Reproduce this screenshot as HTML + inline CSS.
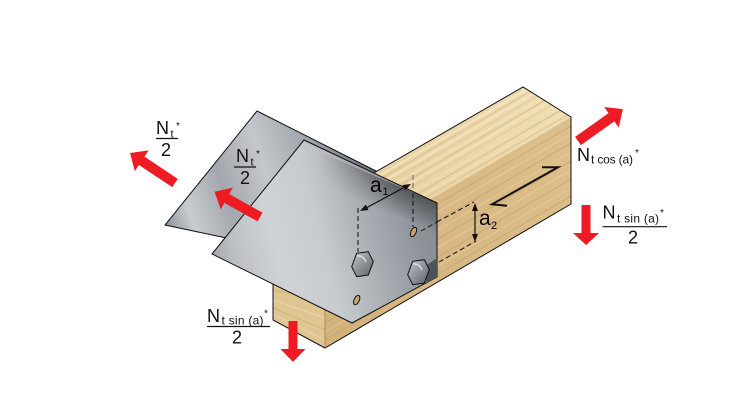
<!DOCTYPE html>
<html><head><meta charset="utf-8"><style>html,body{margin:0;padding:0;background:#fff}svg{display:block}</style></head>
<body>
<svg width="733" height="416" viewBox="0 0 733 416" xmlns="http://www.w3.org/2000/svg" font-family="'Liberation Sans', Arial, sans-serif">
<defs>
  <linearGradient id="gBack" gradientUnits="userSpaceOnUse" x1="165" y1="225" x2="378" y2="150">
    <stop offset="0" stop-color="#8e949a"/>
    <stop offset="0.12" stop-color="#c9ccd0"/>
    <stop offset="0.3" stop-color="#a3a8ae"/>
    <stop offset="0.5" stop-color="#c4c7cb"/>
    <stop offset="0.75" stop-color="#9aa0a6"/>
    <stop offset="1" stop-color="#62686f"/>
  </linearGradient>
  <linearGradient id="gFront" gradientUnits="userSpaceOnUse" x1="212" y1="280" x2="437" y2="220">
    <stop offset="0" stop-color="#9ca1a7"/>
    <stop offset="0.12" stop-color="#bcc0c4"/>
    <stop offset="0.3" stop-color="#d0d3d6"/>
    <stop offset="0.5" stop-color="#c8cbce"/>
    <stop offset="0.7" stop-color="#a9aeb3"/>
    <stop offset="0.9" stop-color="#8e949a"/>
    <stop offset="1" stop-color="#858b91"/>
  </linearGradient>
  <linearGradient id="gShade" gradientUnits="userSpaceOnUse" x1="392" y1="180" x2="380" y2="210">
    <stop offset="0" stop-color="#000" stop-opacity="0.45"/>
    <stop offset="1" stop-color="#000" stop-opacity="0"/>
  </linearGradient>
  <linearGradient id="gFadeX" gradientUnits="userSpaceOnUse" x1="320" y1="0" x2="395" y2="0">
    <stop offset="0" stop-color="#000"/>
    <stop offset="1" stop-color="#fff"/>
  </linearGradient>
  <mask id="mFade" maskUnits="userSpaceOnUse" x="0" y="0" width="733" height="416">
    <rect x="0" y="0" width="733" height="416" fill="url(#gFadeX)"/>
  </mask>
  <linearGradient id="gTop" gradientUnits="userSpaceOnUse" x1="540" y1="95" x2="300" y2="250">
    <stop offset="0" stop-color="#eedcb2"/>
    <stop offset="1" stop-color="#e4cc98"/>
  </linearGradient>
  <linearGradient id="gSide" gradientUnits="userSpaceOnUse" x1="571" y1="150" x2="330" y2="320">
    <stop offset="0" stop-color="#dcbf8c"/>
    <stop offset="1" stop-color="#d3b27c"/>
  </linearGradient>
  <linearGradient id="gBolt" x1="0" y1="0" x2="1" y2="1">
    <stop offset="0" stop-color="#c9ccd0"/>
    <stop offset="0.5" stop-color="#8d9399"/>
    <stop offset="1" stop-color="#5d636a"/>
  </linearGradient>
  <clipPath id="cTop"><polygon points="523,87 571,117 325,261 273,231"/></clipPath>
  <clipPath id="cSide"><polygon points="571,117 571,204 325,348 325,261"/></clipPath>
  <clipPath id="cEnd"><polygon points="273,231 325,261 325,348 273,320"/></clipPath>
</defs>

<!-- back plate -->
<polygon points="257,111 378,172 340,262 165,225" fill="url(#gBack)" stroke="#111" stroke-width="1"/>

<!-- timber -->
<polygon points="523,87 571,117 325,261 273,231" fill="url(#gTop)"/>
<g clip-path="url(#cTop)" fill="none" stroke-width="1">
  <line x1="526.8" y1="89.4" x2="266.8" y2="241.4" stroke="#f7ecd2"/>
  <line x1="530.2" y1="91.5" x2="270.2" y2="243.5" stroke="#d8bb86" stroke-width="0.8"/>
  <line x1="533.6" y1="93.6" x2="273.6" y2="245.6" stroke="#f5e8c8" stroke-width="1.3"/>
  <line x1="537.4" y1="96" x2="277.4" y2="248" stroke="#dcc08e" stroke-width="0.7"/>
  <line x1="541.2" y1="98.4" x2="281.2" y2="250.4" stroke="#f3e4c0"/>
  <line x1="544.6" y1="100.5" x2="284.6" y2="252.5" stroke="#d6b880" stroke-width="0.8"/>
  <line x1="548" y1="102.6" x2="288" y2="254.6" stroke="#f4e6c4" stroke-width="1.2"/>
  <line x1="551.8" y1="105" x2="291.8" y2="257" stroke="#dbbe8a" stroke-width="0.7"/>
  <line x1="556.6" y1="108" x2="296.6" y2="260" stroke="#efdfb8"/>
  <line x1="560.4" y1="110.4" x2="300.4" y2="262.4" stroke="#d5b67e" stroke-width="0.8"/>
  <line x1="564.3" y1="112.8" x2="304.3" y2="264.8" stroke="#f1e2bd"/>
  <line x1="567.6" y1="114.9" x2="307.6" y2="266.9" stroke="#d8ba84" stroke-width="0.7"/>
</g>
<polygon points="571,117 571,204 325,348 325,261" fill="url(#gSide)"/>
<g clip-path="url(#cSide)" fill="none" stroke-width="0.8">
  <line x1="571" y1="126" x2="311" y2="278" stroke="#c9a56e"/>
  <line x1="571" y1="134" x2="311" y2="286" stroke="#e6cfa0"/>
  <line x1="571" y1="143" x2="311" y2="295" stroke="#c8a36b"/>
  <line x1="571" y1="152" x2="311" y2="304" stroke="#e4cb9a"/>
  <line x1="571" y1="161" x2="311" y2="313" stroke="#c9a56e"/>
  <line x1="571" y1="170" x2="311" y2="322" stroke="#e6cfa0"/>
  <line x1="571" y1="179" x2="311" y2="331" stroke="#c8a36b"/>
  <line x1="571" y1="188" x2="311" y2="340" stroke="#e4cb9a"/>
  <line x1="571" y1="196" x2="311" y2="348" stroke="#c9a56e"/>
</g>
<polygon points="273,231 325,261 325,348 273,320" fill="#dfc592"/>
<g clip-path="url(#cEnd)" fill="none" stroke-width="0.8">
  <line x1="273" y1="290" x2="325" y2="300" stroke="#cdab74"/>
  <line x1="273" y1="300" x2="325" y2="318" stroke="#edd9ad"/>
  <line x1="273" y1="308" x2="325" y2="330" stroke="#cdab74"/>
  <line x1="273" y1="314" x2="325" y2="340" stroke="#edd9ad"/>
</g>
<polyline points="273,231 523,87 571,117 571,204 325,348 273,320 273,231" fill="none" stroke="#111" stroke-width="1"/>
<line x1="325" y1="348" x2="325" y2="300" stroke="#8a6d45" stroke-width="0.6"/>

<!-- dashed lines on timber -->
<line x1="413" y1="175" x2="413" y2="193" stroke="#666" stroke-width="1" stroke-dasharray="5,3"/>
<line x1="437" y1="222" x2="474" y2="202" stroke="#111" stroke-width="1" stroke-dasharray="5,3"/>
<line x1="439" y1="262" x2="476" y2="241" stroke="#111" stroke-width="1" stroke-dasharray="5,3"/>

<!-- front plate -->
<polygon points="304,140 437,203 437,277 352,323 212,254" fill="url(#gFront)" stroke="#111" stroke-width="1"/>
<polygon points="320,152 437,203 437,240 320,189" fill="url(#gShade)" mask="url(#mFade)"/>
<polygon points="427,265 437,258 437,277 426,283" fill="#4d535a"/>

<!-- holes -->
<ellipse cx="413.5" cy="232" rx="2.6" ry="5" transform="rotate(25 413.5 232)" fill="#c7a66e" stroke="#111" stroke-width="1"/>
<ellipse cx="356.7" cy="300" rx="2.6" ry="5" transform="rotate(25 356.7 300)" fill="#c7a66e" stroke="#111" stroke-width="1"/>

<!-- bolts -->
<polygon points="351.7,266.7 356.7,253.3 368.3,251.7 373.3,261.7 368.3,275 356.7,276.7" fill="url(#gBolt)" stroke="#111" stroke-width="1"/>
<path d="M357,256 Q363,255 366,262" fill="none" stroke="#e6e8ea" stroke-width="1.2"/>
<polygon points="407.7,274.7 412.7,261.3 424.3,259.7 429.3,269.7 424.3,283 412.7,284.7" fill="url(#gBolt)" stroke="#111" stroke-width="1"/>
<path d="M413,264 Q419,263 422,270" fill="none" stroke="#e6e8ea" stroke-width="1.2"/>

<!-- dashed on plate -->
<line x1="413" y1="193" x2="413" y2="227" stroke="#111" stroke-width="1" stroke-dasharray="5,3"/>
<line x1="358" y1="208" x2="358" y2="252" stroke="#111" stroke-width="1" stroke-dasharray="5,3"/>
<line x1="421" y1="231" x2="437" y2="222" stroke="#111" stroke-width="1" stroke-dasharray="5,3"/>

<!-- a1 dimension -->
<line x1="366" y1="208" x2="405" y2="187" stroke="#111" stroke-width="1.2"/>
<polygon points="411,184 405.3,190.4 402.5,185" fill="#111"/>
<polygon points="360,211 368.5,210 365.7,204.6" fill="#111"/>
<text x="370" y="192" font-size="21">a</text>
<text x="382.5" y="195" font-size="11">1</text>

<!-- a2 dimension -->
<line x1="475" y1="209" x2="475" y2="236" stroke="#111" stroke-width="1.2"/>
<polygon points="475,203 472,211 478,211" fill="#111"/>
<polygon points="475,242 472,234 478,234" fill="#111"/>
<text x="479" y="225" font-size="21">a</text>
<text x="491" y="229" font-size="11">2</text>

<!-- Z arrow on timber -->
<polyline points="542,167.3 558,167.3 492,204.3 507,205.7" fill="none" stroke="#111" stroke-width="2" stroke-linejoin="miter"/>

<!-- red arrows -->
<g fill="#ed1c24">
  <polygon transform="translate(175,183) rotate(213.7)" points="0,-5 40,-5 40,-12.5 54,0 40,12.5 40,5 0,5"/>
  <polygon transform="translate(260,217) rotate(209.1)" points="0,-5 38,-5 38,-12.5 52,0 38,12.5 38,5 0,5"/>
  <polygon transform="translate(578,141) rotate(-35.4)" points="0,-5 41,-5 41,-12.5 55,0 41,12.5 41,5 0,5"/>
  <polygon transform="translate(586,205) rotate(90)" points="0,-4.5 28,-4.5 28,-13 40,0 28,13 28,4.5 0,4.5"/>
  <polygon transform="translate(293,321) rotate(90)" points="0,-4.5 28,-4.5 28,-12.5 41,0 28,12.5 28,4.5 0,4.5"/>
</g>

<!-- labels -->
<g fill="#111">
  <text x="156" y="134" font-size="18">N</text>
  <text x="170.5" y="137.5" font-size="11">t</text>
  <text x="176" y="129" font-size="10">*</text>
  <text x="166" y="156" font-size="18" text-anchor="middle">2</text>

  <text x="236" y="162" font-size="18">N</text>
  <text x="250.5" y="165.5" font-size="11">t</text>
  <text x="256" y="157" font-size="10">*</text>
  <text x="245" y="184" font-size="18" text-anchor="middle">2</text>

  <text x="577" y="161" font-size="18">N</text>
  <text x="591" y="163.5" font-size="12" textLength="42" lengthAdjust="spacing">t cos (a)</text>
  <text x="635" y="156" font-size="10">*</text>

  <text x="602.5" y="218.5" font-size="18">N</text>
  <text x="617" y="222.5" font-size="12" textLength="42" lengthAdjust="spacing">t sin (a)</text>
  <text x="660" y="216" font-size="10">*</text>
  <text x="633" y="243.5" font-size="18" text-anchor="middle">2</text>

  <text x="207" y="322" font-size="18">N</text>
  <text x="221.5" y="324.5" font-size="12" textLength="42" lengthAdjust="spacing">t sin (a)</text>
  <text x="264" y="316.5" font-size="10">*</text>
  <text x="237" y="343.5" font-size="18" text-anchor="middle">2</text>
</g>
<g stroke="#111" stroke-width="1.2">
  <line x1="156" y1="138.5" x2="178" y2="138.5"/>
  <line x1="234" y1="167" x2="256" y2="167"/>
  <line x1="602.5" y1="226.7" x2="667" y2="226.7"/>
  <line x1="207" y1="326.5" x2="270" y2="326.5"/>
</g>
</svg>
</body></html>
